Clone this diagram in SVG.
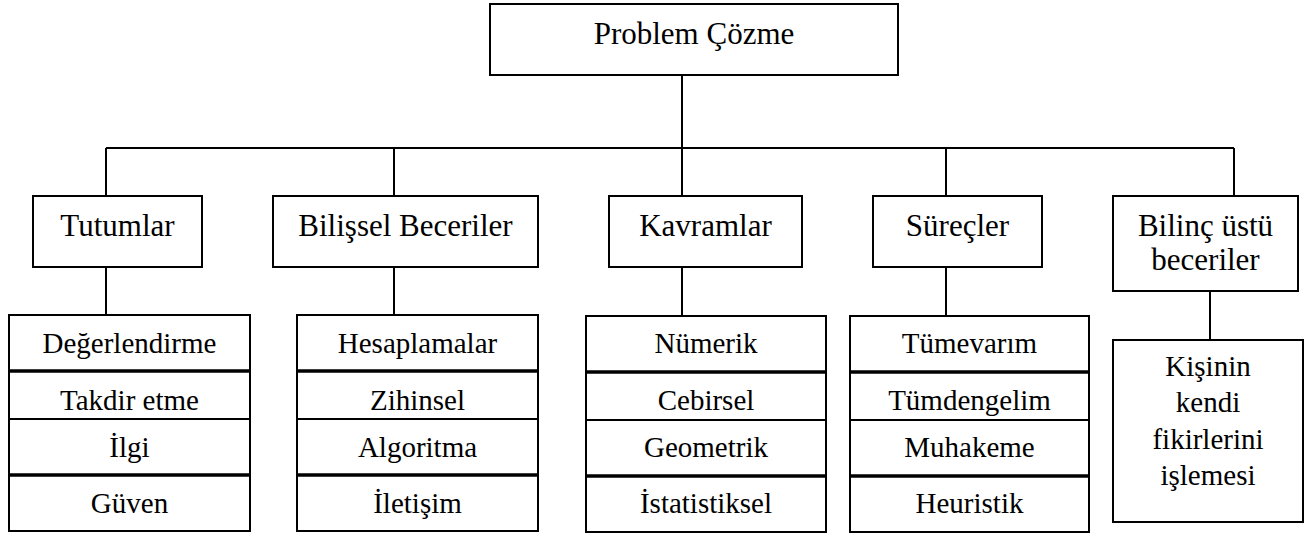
<svg xmlns="http://www.w3.org/2000/svg" width="1312" height="536" viewBox="0 0 1312 536">
  <style>
    .box { fill: #fff; stroke: #000; stroke-width: 2; }
    .rule { stroke: #000; stroke-width: 2; fill: none; }
    .rule-thick { stroke: #000; stroke-width: 3.5; fill: none; }
    .t { font-family: "Liberation Serif", "Times New Roman", serif; fill: #000; text-anchor: middle; }
    .head { font-size: 31px; }
    .item { font-size: 29px; }
  </style>
  <rect width="1312" height="536" fill="#fff"/>

  <!-- connectors -->
  <g id="connectors" class="rule">
    <line x1="682" y1="75" x2="682" y2="148"/>
    <line x1="106" y1="148" x2="1234" y2="148"/>
    <line x1="106" y1="148" x2="106" y2="196"/>
    <line x1="394" y1="148" x2="394" y2="196"/>
    <line x1="682" y1="148" x2="682" y2="196"/>
    <line x1="946" y1="148" x2="946" y2="196"/>
    <line x1="1234" y1="148" x2="1234" y2="196"/>
    <line x1="106" y1="267" x2="106" y2="315"/>
    <line x1="394" y1="267" x2="394" y2="316"/>
    <line x1="682" y1="267" x2="682" y2="316"/>
    <line x1="946" y1="267" x2="946" y2="316"/>
    <line x1="1210" y1="291" x2="1210" y2="340"/>
  </g>

  <!-- root -->
  <g id="node-root">
    <rect class="box" x="490" y="4" width="408" height="71"/>
    <text class="t head" x="694" y="44">Problem Çözme</text>
  </g>

  <!-- level 1 -->
  <g id="node-tutumlar">
    <rect class="box" x="33" y="196" width="169" height="71"/>
    <text class="t head" x="117.5" y="236">Tutumlar</text>
  </g>
  <g id="node-bilissel">
    <rect class="box" x="273" y="196" width="265" height="71"/>
    <text class="t head" x="405.5" y="236">Bilişsel Beceriler</text>
  </g>
  <g id="node-kavramlar">
    <rect class="box" x="609" y="196" width="193" height="71"/>
    <text class="t head" x="705.5" y="236">Kavramlar</text>
  </g>
  <g id="node-surecler">
    <rect class="box" x="873" y="196" width="169" height="71"/>
    <text class="t head" x="957.5" y="236">Süreçler</text>
  </g>
  <g id="node-bilincustu">
    <rect class="box" x="1113" y="196" width="185" height="95"/>
    <text class="t head" x="1205.5" y="236">Bilinç üstü</text>
    <text class="t head" x="1205.5" y="270">beceriler</text>
  </g>

  <!-- level 2 stacks -->
  <g id="stack-tutumlar">
    <rect class="box" x="9" y="315" width="241" height="216"/>
    <line class="rule-thick" x1="9" y1="371" x2="250" y2="371"/>
    <line class="rule" x1="9" y1="419" x2="250" y2="419"/>
    <line class="rule-thick" x1="9" y1="475" x2="250" y2="475"/>
    <text class="t item" x="129.5" y="353">Değerlendirme</text>
    <text class="t item" x="129.5" y="410">Takdir etme</text>
    <text class="t item" x="129.5" y="457">İlgi</text>
    <text class="t item" x="129.5" y="513">Güven</text>
  </g>
  <g id="stack-bilissel">
    <rect class="box" x="297" y="315" width="241" height="216"/>
    <line class="rule-thick" x1="297" y1="371" x2="538" y2="371"/>
    <line class="rule" x1="297" y1="419" x2="538" y2="419"/>
    <line class="rule-thick" x1="297" y1="475" x2="538" y2="475"/>
    <text class="t item" x="417.5" y="353">Hesaplamalar</text>
    <text class="t item" x="417.5" y="410">Zihinsel</text>
    <text class="t item" x="417.5" y="457">Algoritma</text>
    <text class="t item" x="417.5" y="513">İletişim</text>
  </g>
  <g id="stack-kavramlar">
    <rect class="box" x="586" y="316" width="240" height="216"/>
    <line class="rule-thick" x1="586" y1="372" x2="826" y2="372"/>
    <line class="rule" x1="586" y1="420" x2="826" y2="420"/>
    <line class="rule-thick" x1="586" y1="476" x2="826" y2="476"/>
    <text class="t item" x="706" y="353">Nümerik</text>
    <text class="t item" x="706" y="410">Cebirsel</text>
    <text class="t item" x="706" y="457">Geometrik</text>
    <text class="t item" x="706" y="513">İstatistiksel</text>
  </g>
  <g id="stack-surecler">
    <rect class="box" x="850" y="316" width="239" height="216"/>
    <line class="rule-thick" x1="850" y1="372" x2="1089" y2="372"/>
    <line class="rule" x1="850" y1="420" x2="1089" y2="420"/>
    <line class="rule-thick" x1="850" y1="476" x2="1089" y2="476"/>
    <text class="t item" x="969.5" y="353">Tümevarım</text>
    <text class="t item" x="969.5" y="410">Tümdengelim</text>
    <text class="t item" x="969.5" y="457">Muhakeme</text>
    <text class="t item" x="969.5" y="513">Heuristik</text>
  </g>
  <g id="node-kisinin">
    <rect class="box" x="1113" y="340" width="190" height="182"/>
    <text class="t item" x="1208" y="376">Kişinin</text>
    <text class="t item" x="1208" y="412">kendi</text>
    <text class="t item" x="1208" y="449">fikirlerini</text>
    <text class="t item" x="1208" y="485">işlemesi</text>
  </g>
</svg>
